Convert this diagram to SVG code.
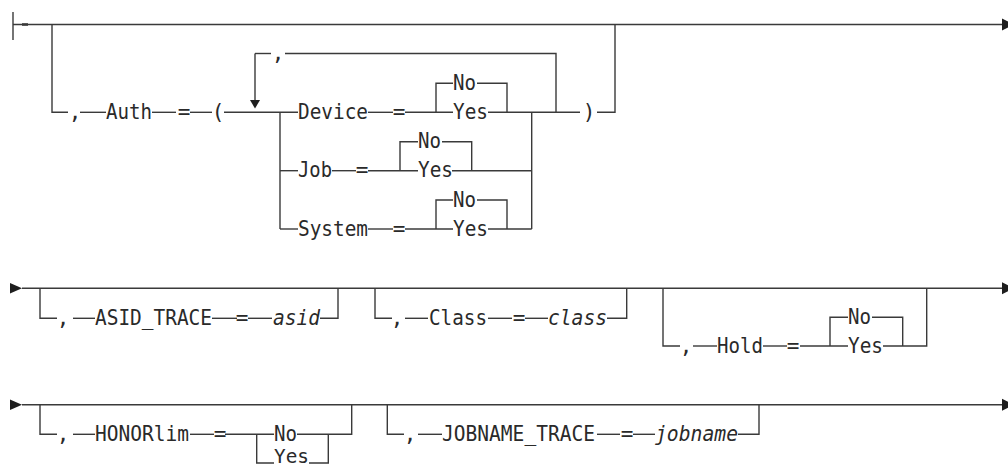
<svg xmlns="http://www.w3.org/2000/svg" width="1008" height="468" viewBox="0 0 1008 468">
<style>
.c line, .c polyline { stroke:#3a3a3a; stroke-width:1.4; fill:none; }
.h { fill:#1e1e1e; }
text { font-family:"DejaVu Sans Mono","Liberation Mono",monospace; font-size:21px; fill:#2a2a2a; }
.m { text-anchor:middle; }
.i { font-style:italic; }
</style>
<rect width="1008" height="468" fill="#fff"/>
<g id="connectors" class="c">
<!-- row 1 -->
<line x1="13" y1="12" x2="13" y2="40"/>
<line x1="13" y1="24.5" x2="1003" y2="24.5"/>
<line x1="22" y1="24.5" x2="28" y2="24.5" style="stroke-width:2.6"/>
<polyline points="52,24.5 52,112.3 68,112.3"/>
<line x1="80" y1="112.3" x2="106" y2="112.3"/>
<line x1="152" y1="112.3" x2="176" y2="112.3"/>
<line x1="190" y1="112.3" x2="212" y2="112.3"/>
<line x1="224" y1="112.3" x2="298" y2="112.3"/>
<line x1="255" y1="53.5" x2="271" y2="53.5"/>
<line x1="255" y1="53.5" x2="255" y2="101"/>
<polyline points="285,53.5 556,53.5 556,112.3"/>
<line x1="280" y1="112.3" x2="280" y2="229"/>
<line x1="280" y1="170.7" x2="298" y2="170.7"/>
<line x1="280" y1="229" x2="298" y2="229"/>
<!-- Device -->
<line x1="368" y1="112.3" x2="393" y2="112.3"/>
<line x1="405" y1="112.3" x2="453" y2="112.3"/>
<polyline points="453,83.3 436,83.3 436,112.3"/>
<polyline points="477,83.3 507,83.3 507,112.3"/>
<line x1="488" y1="112.3" x2="580" y2="112.3"/>
<polyline points="597,112.3 615,112.3 615,24.5"/>
<!-- Job -->
<line x1="332" y1="170.7" x2="356" y2="170.7"/>
<line x1="368" y1="170.7" x2="418" y2="170.7"/>
<polyline points="418,141.7 400,141.7 400,170.7"/>
<polyline points="442,141.7 471.7,141.7 471.7,170.7"/>
<line x1="452" y1="170.7" x2="531.7" y2="170.7"/>
<!-- System -->
<line x1="368" y1="229" x2="393" y2="229"/>
<line x1="405" y1="229" x2="453" y2="229"/>
<polyline points="453,200 436,200 436,229"/>
<polyline points="477,200 507,200 507,229"/>
<line x1="488" y1="229" x2="531.7" y2="229"/>
<line x1="531.7" y1="112.3" x2="531.7" y2="229"/>
<!-- row 2 -->
<line x1="22" y1="288.3" x2="1003" y2="288.3"/>
<polyline points="40,288.3 40,318.3 57,318.3"/>
<line x1="73" y1="318.3" x2="95" y2="318.3"/>
<line x1="212" y1="318.3" x2="237" y2="318.3"/>
<line x1="248" y1="318.3" x2="272" y2="318.3"/>
<polyline points="320,318.3 338,318.3 338,288.3"/>
<polyline points="375,288.3 375,318.3 392,318.3"/>
<line x1="405" y1="318.3" x2="428" y2="318.3"/>
<line x1="488" y1="318.3" x2="512" y2="318.3"/>
<line x1="525" y1="318.3" x2="548" y2="318.3"/>
<polyline points="607,318.3 626.7,318.3 626.7,288.3"/>
<polyline points="663,288.3 663,346 680,346"/>
<line x1="693" y1="346" x2="717" y2="346"/>
<line x1="763" y1="346" x2="787" y2="346"/>
<line x1="800" y1="346" x2="848" y2="346"/>
<polyline points="848,317.3 830,317.3 830,346"/>
<polyline points="872,317.3 902.7,317.3 902.7,346"/>
<polyline points="883,346 926.7,346 926.7,288.3"/>
<!-- row 3 -->
<line x1="22" y1="404.7" x2="1003" y2="404.7"/>
<polyline points="40,404.7 40,434.3 57,434.3"/>
<line x1="73" y1="434.3" x2="95" y2="434.3"/>
<line x1="190" y1="434.3" x2="214" y2="434.3"/>
<line x1="225" y1="434.3" x2="274" y2="434.3"/>
<polyline points="297,434.3 351.7,434.3 351.7,404.7"/>
<polyline points="256.7,434.3 256.7,463 274,463"/>
<polyline points="309,463 328.3,463 328.3,434.3"/>
<polyline points="387.3,404.7 387.3,434.3 404,434.3"/>
<line x1="418" y1="434.3" x2="442" y2="434.3"/>
<line x1="597" y1="434.3" x2="620" y2="434.3"/>
<line x1="633" y1="434.3" x2="655" y2="434.3"/>
<polyline points="738,434.3 759,434.3 759,404.7"/>
<!-- arrowheads -->
<polygon class="h" points="1002,18.5 1014,24.5 1002,30.5"/>
<polygon class="h" points="250,100 260,100 255,108.5"/>
<polygon class="h" points="10,283 22,288.3 10,293.6"/>
<polygon class="h" points="1002,282.3 1014,288.3 1002,294.3"/>
<polygon class="h" points="10,399.4 22,404.7 10,410"/>
<polygon class="h" points="1002,398.7 1014,404.7 1002,410.7"/>
</g>
<g id="auth">
<text class="m" x="75" y="118.8">,</text>
<text x="106" y="118.8" textLength="46" lengthAdjust="spacingAndGlyphs">Auth</text>
<text class="m" x="184" y="118.8">=</text>
<text class="m" x="218" y="118.8">(</text>
<text class="m" x="278" y="60">,</text>
<text class="m" x="589" y="118.8">)</text>
</g>
<g id="device">
<text x="298" y="118.8" textLength="70" lengthAdjust="spacingAndGlyphs">Device</text>
<text class="m" x="399" y="118.8">=</text>
<text x="453" y="89.8" textLength="23" lengthAdjust="spacingAndGlyphs">No</text>
<text x="453" y="118.8" textLength="35" lengthAdjust="spacingAndGlyphs">Yes</text>
</g>
<g id="job">
<text x="298" y="177.2" textLength="34" lengthAdjust="spacingAndGlyphs">Job</text>
<text class="m" x="362" y="177.2">=</text>
<text x="418" y="148.2" textLength="23" lengthAdjust="spacingAndGlyphs">No</text>
<text x="418" y="177.2" textLength="35" lengthAdjust="spacingAndGlyphs">Yes</text>
</g>
<g id="system">
<text x="298" y="235.5" textLength="70" lengthAdjust="spacingAndGlyphs">System</text>
<text class="m" x="399" y="235.5">=</text>
<text x="453" y="206.5" textLength="23" lengthAdjust="spacingAndGlyphs">No</text>
<text x="453" y="235.5" textLength="35" lengthAdjust="spacingAndGlyphs">Yes</text>
</g>
<g id="asid_trace">
<text class="m" x="63" y="324.8">,</text>
<text x="95" y="324.8" textLength="117" lengthAdjust="spacingAndGlyphs">ASID_TRACE</text>
<text class="m" x="242" y="324.8">=</text>
<text class="i" x="273" y="324.8" textLength="47" lengthAdjust="spacingAndGlyphs">asid</text>
</g>
<g id="class">
<text class="m" x="397" y="324.8">,</text>
<text x="429" y="324.8" textLength="58" lengthAdjust="spacingAndGlyphs">Class</text>
<text class="m" x="519" y="324.8">=</text>
<text class="i" x="548" y="324.8" textLength="59" lengthAdjust="spacingAndGlyphs">class</text>
</g>
<g id="hold">
<text class="m" x="686" y="352.5">,</text>
<text x="717" y="352.5" textLength="46" lengthAdjust="spacingAndGlyphs">Hold</text>
<text class="m" x="793" y="352.5">=</text>
<text x="848" y="323.8" textLength="23" lengthAdjust="spacingAndGlyphs">No</text>
<text x="848" y="352.5" textLength="35" lengthAdjust="spacingAndGlyphs">Yes</text>
</g>
<g id="honorlim">
<text class="m" x="63" y="440.8">,</text>
<text x="95" y="440.8" textLength="94" lengthAdjust="spacingAndGlyphs">HONORlim</text>
<text class="m" x="220" y="440.8">=</text>
<text x="274" y="440.8" textLength="23" lengthAdjust="spacingAndGlyphs">No</text>
<text x="274" y="462.5" textLength="35" lengthAdjust="spacingAndGlyphs" style="font-size:19px">Yes</text>
</g>
<g id="jobname_trace">
<text class="m" x="410" y="440.8">,</text>
<text x="442" y="440.8" textLength="153" lengthAdjust="spacingAndGlyphs">JOBNAME_TRACE</text>
<text class="m" x="627" y="440.8">=</text>
<text class="i" x="655" y="440.8" textLength="83" lengthAdjust="spacingAndGlyphs">jobname</text>
</g>
</svg>
